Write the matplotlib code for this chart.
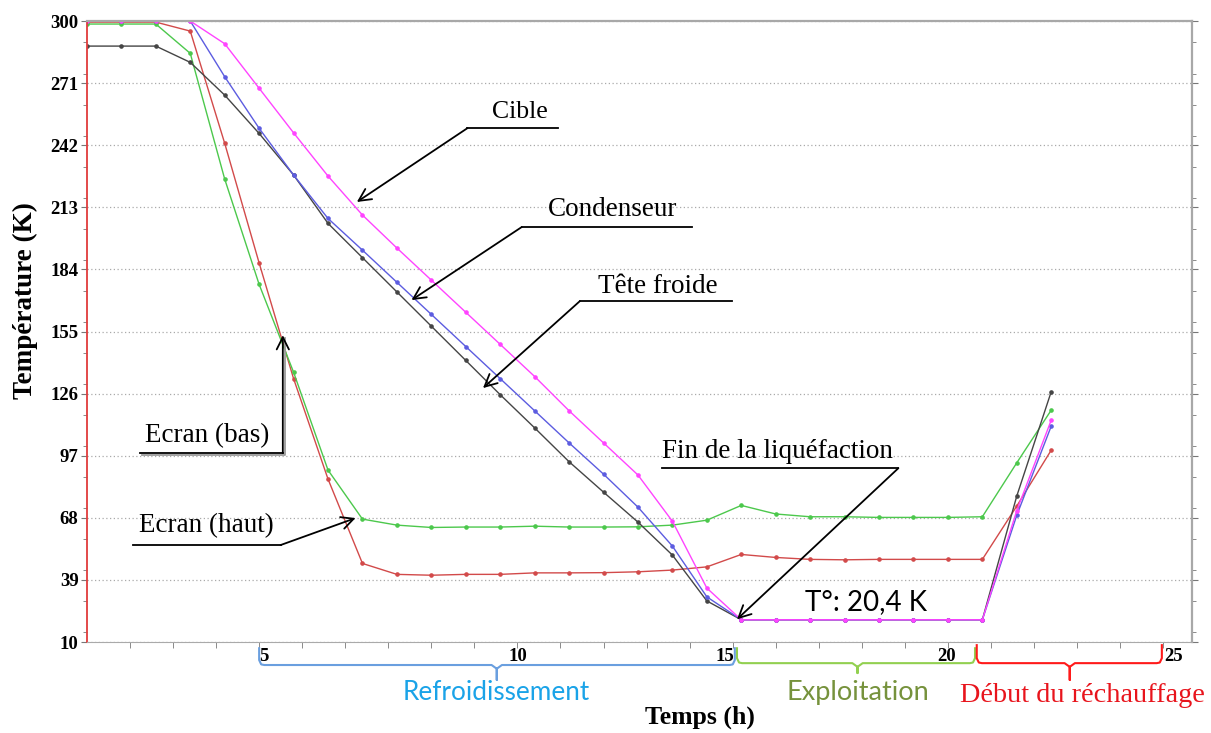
import matplotlib
matplotlib.use("Agg")
import matplotlib.pyplot as plt
import matplotlib.transforms as mtransforms
from matplotlib.ticker import FixedLocator, MultipleLocator

# temps (h) et températures (K)
temps = [0.0, 0.8, 1.6, 2.4, 3.2, 4.0, 4.8, 5.6, 6.4, 7.2, 8.0, 8.8, 9.6, 10.4,
         11.2, 12.0, 12.8, 13.6, 14.4, 15.2, 16.0, 16.8, 17.6, 18.4, 19.2,
         20.0, 20.8, 21.6, 22.4]
ecran_bas = [299.5, 299.5, 299.5, 295.3, 242.9, 187.0, 133.0, 86.1, 46.7,
             41.6, 41.2, 41.6, 41.6, 42.3, 42.3, 42.4, 42.8, 43.6, 45.1, 50.9,
             49.5, 48.6, 48.4, 48.6, 48.6, 48.6, 48.6, 73.5, 99.6]
ecran_haut = [298.6, 298.6, 298.6, 284.9, 226.2, 177.0, 136.0, 90.3, 67.4,
              64.6, 63.5, 63.7, 63.7, 64.1, 63.7, 63.7, 63.8, 64.6, 66.9, 73.8,
              69.8, 68.5, 68.5, 68.2, 68.2, 68.2, 68.5, 93.7, 118.3]
tete_froide = [288.3, 288.3, 288.3, 280.7, 265.4, 247.5, 228.1, 205.5, 189.5,
               173.5, 157.5, 141.5, 125.5, 110.0, 94.2, 80.0, 66.0, 50.6, 29.2,
               20.4, 20.4, 20.4, 20.4, 20.4, 20.4, 20.4, 20.4, 78.2, 126.9]
condenseur = [300.0, 300.0, 300.0, 300.0, 274.0, 249.9, 228.1, 207.8, 193.0,
              178.0, 163.0, 148.0, 133.0, 118.0, 103.0, 88.4, 73.0, 54.8, 31.1,
              20.4, 20.4, 20.4, 20.4, 20.4, 20.4, 20.4, 20.4, 69.2, 110.8]
cible = [300.0, 300.0, 300.0, 300.0, 289.4, 268.6, 247.8, 227.6, 209.4, 194.0,
         179.0, 164.0, 149.0, 134.0, 118.0, 103.0, 88.0, 66.4, 35.2, 20.4,
         20.4, 20.4, 20.4, 20.4, 20.4, 20.4, 20.4, 71.4, 113.6]

y_ticks = [10, 39, 68, 97, 126, 155, 184, 213, 242, 271, 300]
# les étiquettes de l'original ne tombent pas toutes pile sur la graduation
x_label_pos = [4.1, 10.02, 14.82, 19.97, 25.25]
x_labels = ["5", "10", "15", "20", "25"]

SERIF = ["Liberation Serif", "DejaVu Serif"]
SANS = ["Lato", "DejaVu Sans"]

fig = plt.figure(figsize=(12.11, 7.33), dpi=100)
ax = fig.add_axes([0.0718, 0.1241, 0.9125, 0.8472])

series = [
    (ecran_bas, "#d24a4a"),
    (ecran_haut, "#4cc84c"),
    (tete_froide, "#454545"),
    (condenseur, "#5c5ce0"),
    (cible, "#ff44ff"),
]
for vals, c in series:
    ax.plot(temps, vals, "-", color=c, lw=1.0, marker="o", ms=2.3,
            mfc=c, mec=c)

ax.set_xlim(0, 25.67)
ax.set_ylim(10, 300)
ax.yaxis.set_major_locator(FixedLocator(y_ticks))
ax.yaxis.set_minor_locator(MultipleLocator(14.5))
ax.xaxis.set_major_locator(FixedLocator(x_label_pos))
ax.xaxis.set_minor_locator(FixedLocator(range(1, 26)))
ax.set_xticklabels(x_labels)
for lab in ax.get_yticklabels() + ax.get_xticklabels():
    lab.set_family(SERIF)
    lab.set_fontweight("bold")
    lab.set_fontsize(13.5)
ax.tick_params(axis="y", which="both", left=True, right=True, direction="out",
               color="#777777", pad=2)
ax.tick_params(axis="y", which="major", length=4)
ax.tick_params(axis="y", which="minor", length=3)
ax.tick_params(axis="x", which="major", length=0, pad=4)
ax.tick_params(axis="x", which="minor", direction="out", length=4,
               color="#777777")

ax.grid(axis="y", which="major", ls=(0, (1, 2)), color="#aaaaaa", lw=0.9)
ax.spines["left"].set_color("#e03c3c")
ax.spines["left"].set_linewidth(1.3)
for s in ("top", "right"):
    ax.spines[s].set_color("#a8a8a8")
    ax.spines[s].set_linewidth(1.6)
ax.spines["bottom"].set_color("#aaaaaa")
ax.spines["bottom"].set_linestyle((0, (1, 1)))

fig.text(0.021, 0.59, "Température (K)", rotation=90, ha="center",
         va="center", family=SERIF, fontweight="bold", fontsize=19.5)
fig.text(0.578, 0.022, "Temps (h)", ha="center", va="center",
         family=SERIF, fontweight="bold", fontsize=18.5)

# annotations avec trait de soulignement + flèche
arrow = dict(arrowstyle="->", color="black", lw=1.3, mutation_scale=22,
             shrinkA=0, shrinkB=0)


def callout(text, xy_text, x_line, y_line, start, tip, size=19.5):
    ax.text(xy_text[0], xy_text[1], text, ha="center", va="center",
            family=SERIF, fontsize=size)
    ax.plot(x_line, [y_line, y_line], color="black", lw=1.3, clip_on=False)
    ax.annotate("", xy=tip, xytext=start, arrowprops=arrow,
                annotation_clip=False)


callout("Cible", (10.06, 257.5), [8.84, 10.94], 250, (8.84, 250),
        (6.27, 215.5), size=18.5)
callout("Condenseur", (12.2, 212.2), [10.1, 14.06], 203.8, (10.1, 203.8),
        (7.54, 169.7))
callout("Tête froide", (13.25, 175.8), [11.45, 14.98], 169.2, (11.45, 169.2),
        (9.2, 128.6))
callout("Fin de la liquéfaction", (16.05, 99.2), [13.35, 18.85], 91.2,
        (18.85, 91.2), (15.1, 20.6))
# léger ombrage du repère "Ecran (bas)"
ax.plot([1.27, 4.6, 4.6], [97.3, 97.3, 152], color="#9a9a9a", lw=1.3)
callout("Ecran (bas)", (2.8, 106.2), [1.23, 4.55], 98.2, (4.55, 98.2),
        (4.55, 153.3))
callout("Ecran (haut)", (2.77, 64.2), [1.06, 4.5], 55.3, (4.5, 55.3),
        (6.24, 67.9))
ax.text(18.1, 28.8, "T°: 20,4 K", ha="center", va="center", family=SANS,
        fontsize=20)

# accolades sous l'axe des temps
tr = mtransforms.blended_transform_factory(ax.transData, ax.transAxes)


def accolade(x0, x1, xm, y_top, y_line, y_tip, color):
    d = 0.12
    xs = [x0, x0, x0 + d * 0.4, x0 + d, xm - d, xm, xm, xm, xm + d,
          x1 - d, x1 - d * 0.4, x1, x1]
    ys = [y_top, y_line + 0.008, y_line + 0.001, y_line, y_line,
          y_line - 0.006, y_tip, y_line - 0.006, y_line, y_line,
          y_line + 0.001, y_line + 0.008, y_top]
    ax.plot(xs, ys, color=color, lw=1.5, transform=tr, clip_on=False)


accolade(4.0, 15.05, 9.52, -0.010, -0.037, -0.061, "#6a9fdf")
accolade(15.1, 20.63, 17.9, -0.010, -0.034, -0.050, "#92d050")
accolade(20.67, 24.97, 22.83, -0.005, -0.034, -0.061, "#ff1a1a")

fig.text(0.410, 0.0546, "Refroidissement", ha="center", va="center",
         family=SANS, fontsize=18.8, color="#1aa3e8")
fig.text(0.708, 0.0559, "Exploitation", ha="center", va="center",
         family=SANS, fontsize=19.5, color="#76923c")
fig.text(0.894, 0.0518, "Début du réchauffage", ha="center", va="center",
         family=SERIF, fontsize=20.3, color="#e8141c")

fig.savefig("out.png", dpi=100)
